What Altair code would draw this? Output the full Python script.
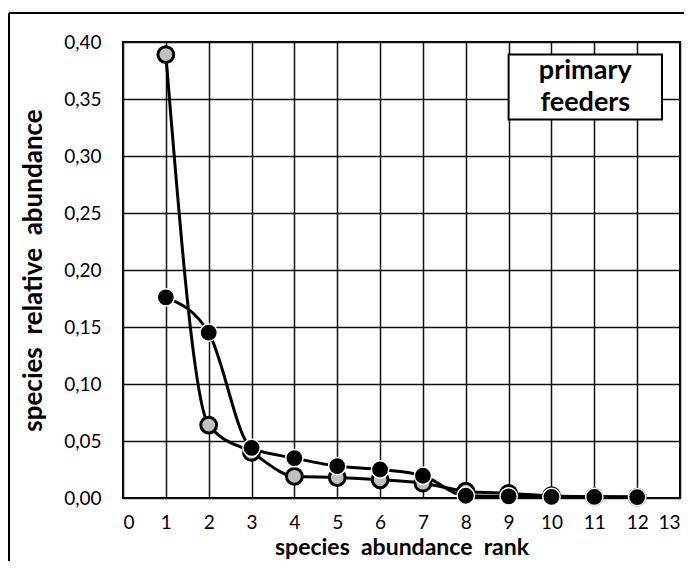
import altair as alt
import pandas as pd

ranks = [1, 2, 3, 4, 5, 6, 7, 8, 9, 10, 11, 12]
grey_series = [0.389, 0.064, 0.040, 0.019, 0.018, 0.016, 0.013, 0.006, 0.004, 0.002, 0.001, 0.0008]
black_series = [0.176, 0.145, 0.044, 0.035, 0.028, 0.025, 0.0195, 0.002, 0.0015, 0.001, 0.001, 0.0008]
x_ticks = list(range(0, 14))
y_ticks = [0.0, 0.05, 0.10, 0.15, 0.20, 0.25, 0.30, 0.35, 0.40]
box_label = ["primary", "feeders"]

FONT = "Lato"
W, H = 557, 456

grey_df = pd.DataFrame({"rank": ranks, "value": grey_series})
black_df = pd.DataFrame({"rank": ranks, "value": black_series})

xscale = alt.Scale(domain=[0, 13], nice=False, zero=False)
yscale = alt.Scale(domain=[0, 0.4], nice=False)

x_enc = alt.X("rank:Q", scale=xscale,
              axis=alt.Axis(values=x_ticks, title="species\u00a0 abundance\u00a0 rank",
                            format="d", ticks=False, domain=False, grid=True,
                            labelPadding=15, titlePadding=4, titleFontSize=23))
y_enc = alt.Y("value:Q", scale=yscale,
              axis=alt.Axis(values=y_ticks, title="species\u00a0 relative\u00a0 abundance",
                            labelExpr="replace(format(datum.value, '.2f'), '.', ',')",
                            ticks=False, domain=False, grid=True,
                            labelPadding=22, titlePadding=17, titleFontSize=26))

grey_line = alt.Chart(grey_df).mark_line(
    color="black", strokeWidth=3, interpolate="monotone"
).encode(x=x_enc, y=y_enc)
grey_pts = alt.Chart(grey_df).mark_point(
    shape="circle", filled=True, fill="#c0c0c0", stroke="black", strokeWidth=3,
    size=250, opacity=1
).encode(x="rank:Q", y="value:Q")

black_line = alt.Chart(black_df).mark_line(
    color="black", strokeWidth=3, interpolate="monotone"
).encode(x="rank:Q", y="value:Q")
black_pts = alt.Chart(black_df).mark_point(
    shape="circle", filled=True, fill="black", stroke="white", strokeWidth=1.5,
    size=300, opacity=1
).encode(x="rank:Q", y="value:Q")

box_df = pd.DataFrame({"x1": [9.0], "x2": [12.58], "y1": [0.389], "y2": [0.332]})
box = alt.Chart(box_df).mark_rect(
    fill="white", stroke="black", strokeWidth=2
).encode(x="x1:Q", x2="x2:Q", y="y1:Q", y2="y2:Q")

txt_df = pd.DataFrame({"x": [10.79, 10.79], "y": [0.3745, 0.3465], "t": box_label})
box_text = alt.Chart(txt_df).mark_text(
    font=FONT, fontSize=27, fontWeight="bold", color="black", baseline="middle", align="center"
).encode(x="x:Q", y="y:Q", text="t:N")

one = pd.DataFrame({"a": [0]})
frame_top = alt.Chart(one).mark_rule(color="black", strokeWidth=2, clip=False).encode(
    x=alt.value(-114), x2=alt.value(700), y=alt.value(-29))
frame_left = alt.Chart(one).mark_rule(color="black", strokeWidth=2, clip=False).encode(
    x=alt.value(-114), y=alt.value(-29), y2=alt.value(600))

chart = alt.layer(
    grey_line, grey_pts, black_line, black_pts, box, box_text, frame_top, frame_left
).properties(
    width=W, height=H,
    background="white",
    autosize=alt.AutoSizeParams(type="none"),
    padding={"left": 115, "top": 34, "right": 4, "bottom": 63},
).configure_view(
    stroke="black", strokeWidth=2
).configure_axis(
    gridColor="#111111", gridWidth=1.5, gridOpacity=1,
    labelFont=FONT, labelFontSize=19, labelColor="black",
    titleFont=FONT, titleFontWeight="bold", titleColor="black",
)

chart.save("out.html", embed_options={"renderer": "svg", "actions": False})
